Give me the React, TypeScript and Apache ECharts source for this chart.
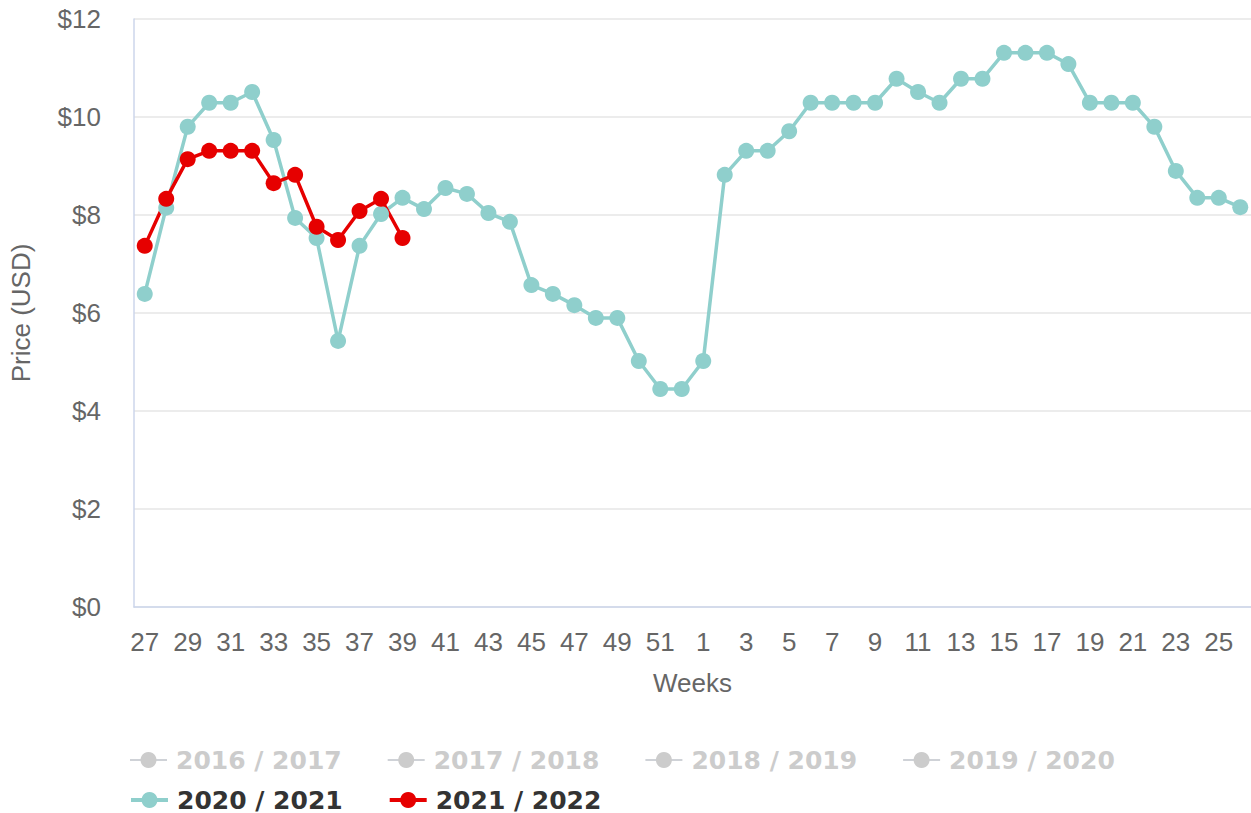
import React, { useEffect, useRef } from "react";
import * as echarts from "echarts";

const weeks: string[] = [
  "27","28","29","30","31","32","33","34","35","36","37","38","39","40","41","42","43","44","45","46","47","48","49","50","51","52",
  "1","2","3","4","5","6","7","8","9","10","11","12","13","14","15","16","17","18","19","20","21","22","23","24","25","26",
];

const season2020: number[] = [
  6.39, 8.15, 9.8, 10.29, 10.29, 10.51, 9.53, 7.94, 7.53, 5.43, 7.37, 8.02, 8.35, 8.12, 8.55, 8.43, 8.04, 7.86, 6.57, 6.39, 6.16, 5.9, 5.9, 5.02, 4.45, 4.45,
  5.02, 8.82, 9.31, 9.31, 9.71, 10.29, 10.29, 10.29, 10.29, 10.78, 10.51, 10.29, 10.78, 10.78, 11.31, 11.31, 11.31, 11.08, 10.29, 10.29, 10.29, 9.8, 8.9, 8.35, 8.35, 8.16,
];

const season2021: number[] = [7.37, 8.33, 9.14, 9.31, 9.31, 9.31, 8.65, 8.82, 7.76, 7.49, 8.08, 8.33, 7.53];

const hiddenSeasons: string[] = ["2016 / 2017", "2017 / 2018", "2018 / 2019", "2019 / 2020"];
const activeSeasons: string[] = ["2020 / 2021", "2021 / 2022"];

const TEAL = "#8fcfcc";
const RED = "#e60000";
const AXIS_FONT = "'Liberation Sans Narrow', 'Liberation Sans', sans-serif";
const LEGEND_FONT = "'DejaVu Sans', sans-serif";

export default function App() {
  const ref = useRef<HTMLDivElement>(null);

  useEffect(() => {
    if (!ref.current) return;
    const chart = echarts.init(ref.current, undefined, { renderer: "svg" });

    const lineSeries = (name: string, data: number[], color: string) => ({
      name,
      type: "line",
      data,
      color,
      symbol: "circle",
      symbolSize: 16,
      showSymbol: true,
      showAllSymbol: true,
      lineStyle: { width: 3.5, color },
      itemStyle: { color },
    });

    const legendBase = {
      left: 124,
      orient: "horizontal",
      itemWidth: 37,
      itemHeight: 20,
      itemGap: 45,
      inactiveColor: "#cccccc",
      lineStyle: { width: 4 },
      textStyle: {
        fontFamily: LEGEND_FONT,
        fontSize: 25,
        fontWeight: "bold",
        color: "#333333",
        padding: [0, 0, 0, 4],
        lineHeight: 26,
      },
    };

    chart.setOption({
      animation: false,
      backgroundColor: "#ffffff",
      grid: { left: 133, top: 19, right: -3, bottom: 206, containLabel: false },
      legend: [
        {
          ...legendBase,
          top: 742,
          data: hiddenSeasons,
          selected: Object.fromEntries(hiddenSeasons.map((s) => [s, false])),
        },
        {
          ...legendBase,
          top: 782,
          data: activeSeasons,
        },
      ],
      xAxis: {
        type: "category",
        data: weeks,
        boundaryGap: true,
        name: "Weeks",
        nameLocation: "middle",
        nameGap: 63,
        nameTextStyle: { fontFamily: AXIS_FONT, fontSize: 26, color: "#666666" },
        axisLine: { show: true, lineStyle: { color: "#ccd6eb", width: 1.5 } },
        axisTick: { show: false },
        axisLabel: {
          interval: 1,
          margin: 22,
          fontFamily: AXIS_FONT,
          fontSize: 26,
          color: "#666666",
        },
        splitLine: { show: false },
      },
      yAxis: {
        type: "value",
        min: 0,
        max: 12,
        interval: 2,
        name: "Price (USD)",
        nameLocation: "middle",
        nameGap: 100,
        nameTextStyle: { fontFamily: AXIS_FONT, fontSize: 26, color: "#666666" },
        axisLine: { show: true, lineStyle: { color: "#ccd6eb", width: 1.5 } },
        axisTick: { show: false },
        axisLabel: {
          margin: 33,
          fontFamily: AXIS_FONT,
          fontSize: 26,
          color: "#666666",
          formatter: (v: number) => "$" + v,
        },
        splitLine: { show: true, lineStyle: { color: "#e6e6e6", width: 1.5 } },
      },
      series: [
        ...hiddenSeasons.map((s) => lineSeries(s, [], "#cccccc")),
        lineSeries(activeSeasons[0], season2020, TEAL),
        lineSeries(activeSeasons[1], season2021, RED),
      ],
    });

    return () => chart.dispose();
  }, []);

  return (
    <div
      ref={ref}
      style={{ position: "fixed", left: 0, top: 0, width: 1251, height: 813 }}
    />
  );
}
